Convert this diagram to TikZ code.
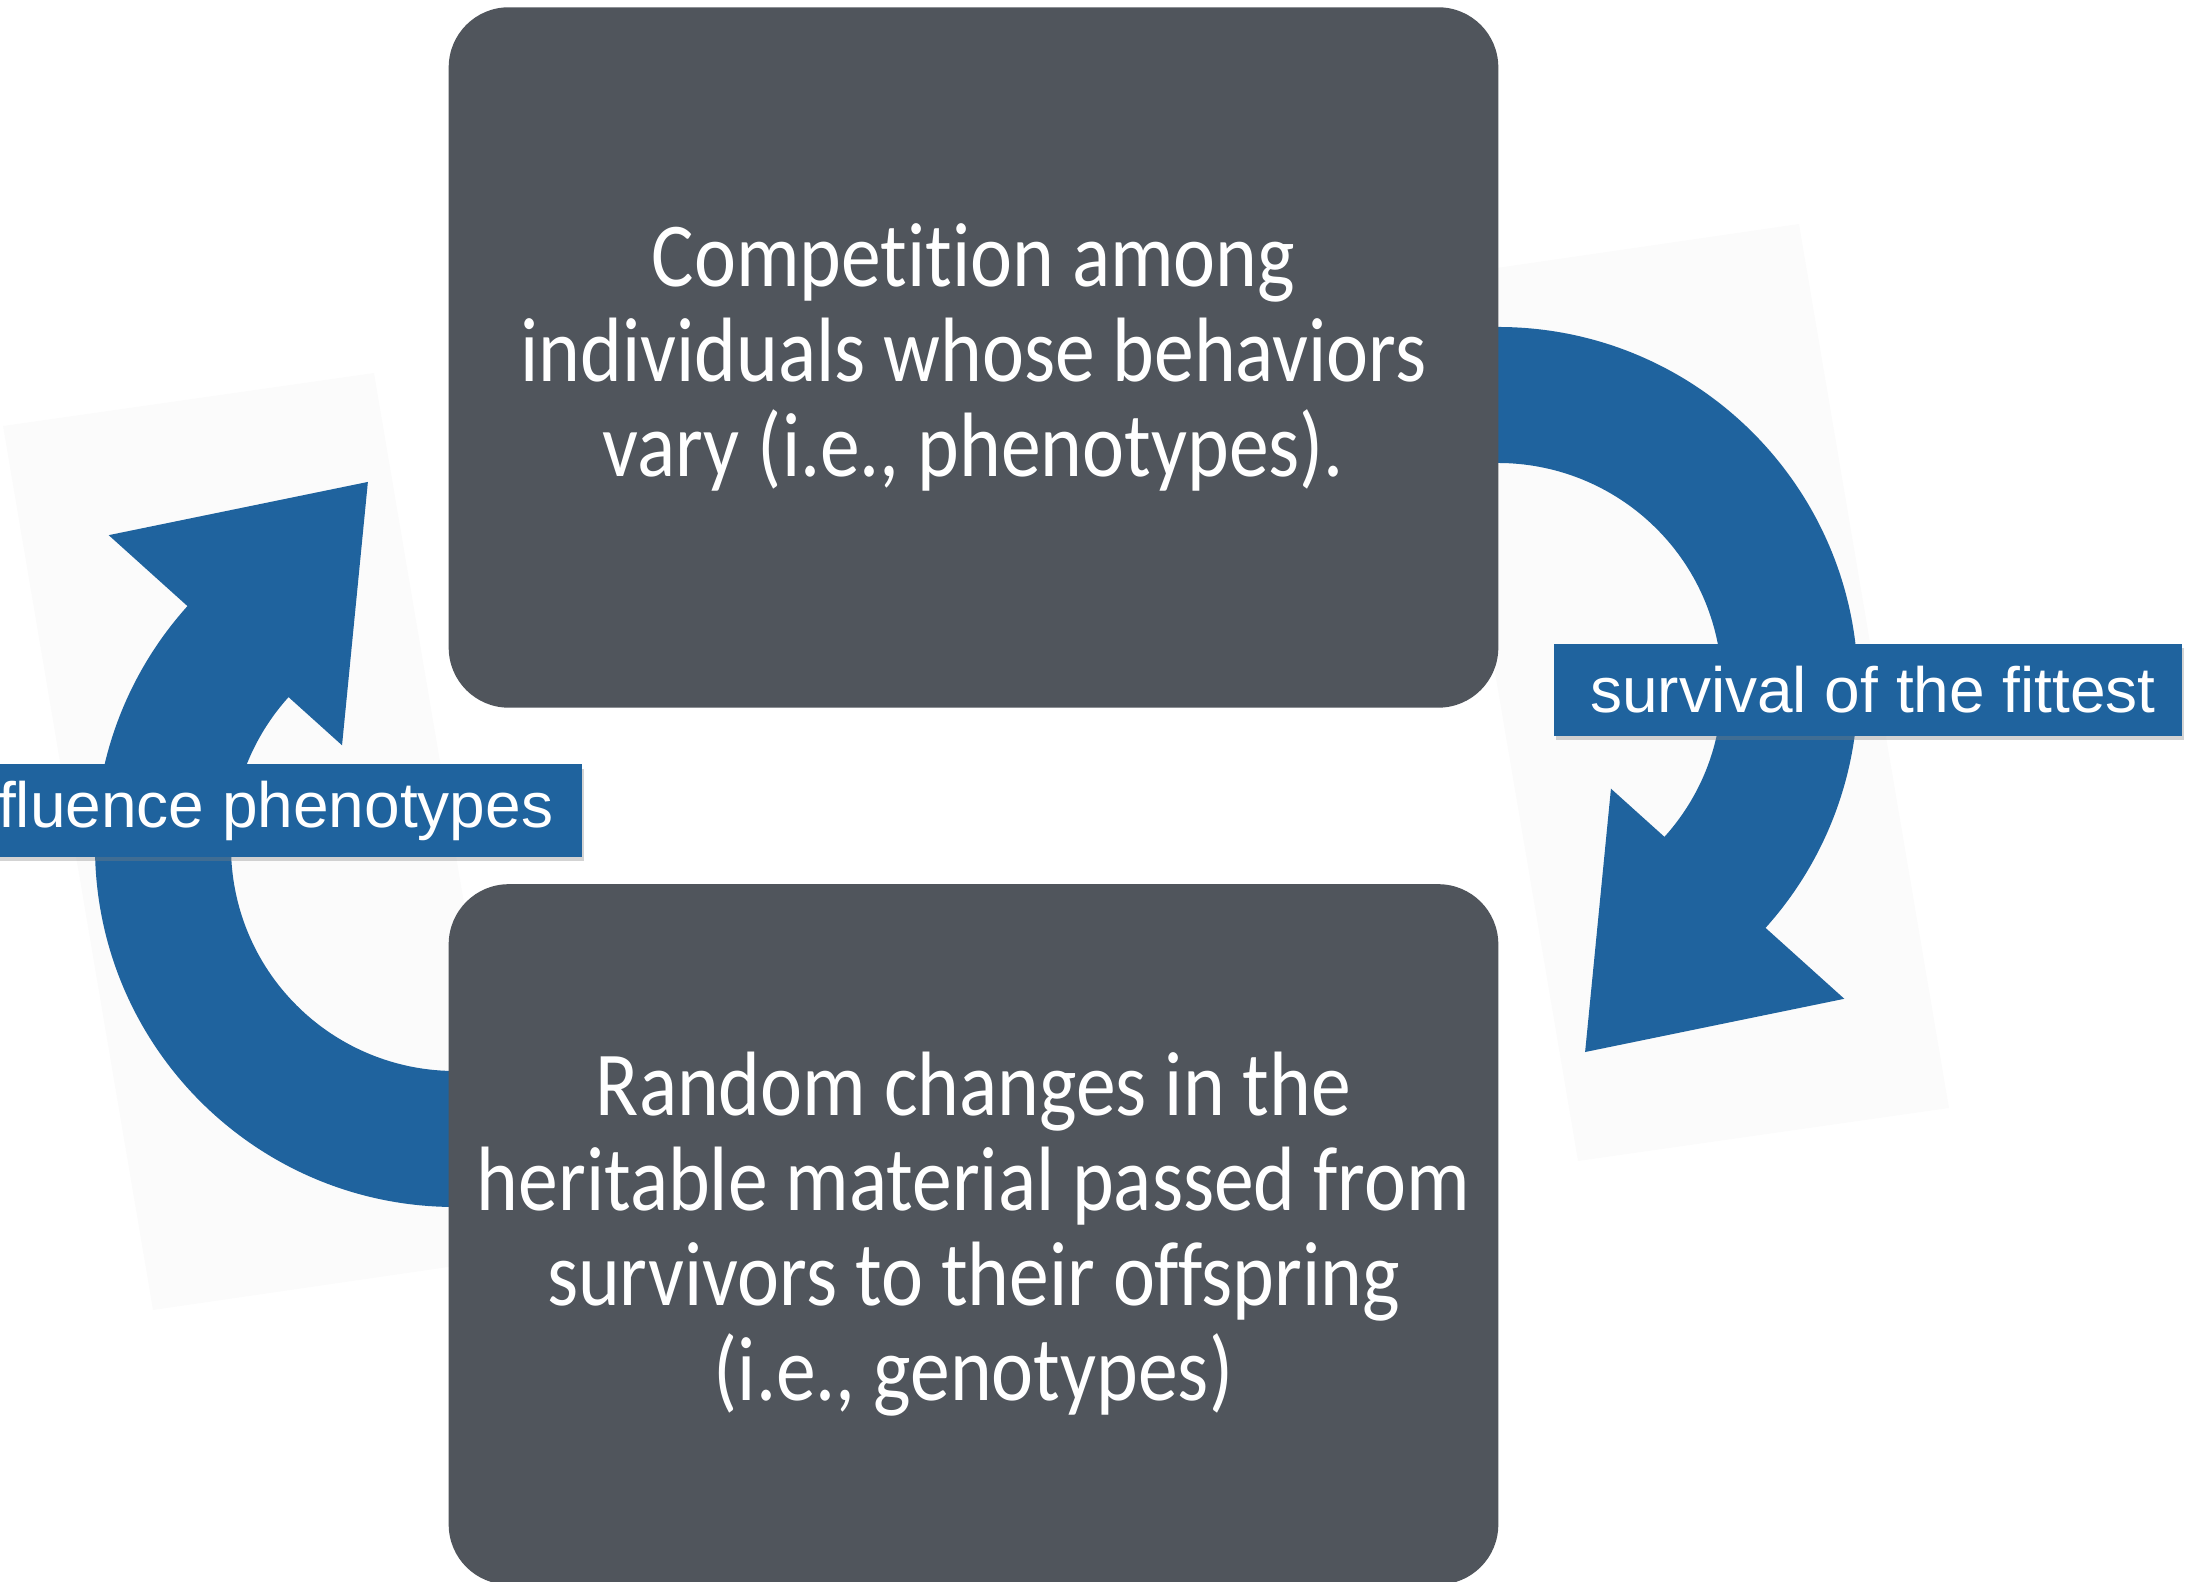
\documentclass[tikz,border=0pt]{standalone}
\usepackage{fontspec}
\setmainfont{Carlito}[FakeStretch=0.87,Ligatures=NoCommon]
\newfontfamily\labelfont{Liberation Sans}
\usetikzlibrary{positioning,shadows,backgrounds,calc}
\definecolor{BoxGray}{HTML}{50555C}
\definecolor{CycleBlue}{HTML}{1F639E}
\definecolor{FadeGray}{HTML}{FBFBFB}
\tikzset{
  % Stage box
  stagebox/.style={rectangle,rounded corners=0.6cm,fill=BoxGray,text=white,
                   minimum width=10.49cm,minimum height=7.0cm,align=center,
                   font=\fontsize{26}{27}\selectfont},
  % Blue tag on an arrow
  tagbox/.style={rectangle,fill=CycleBlue,text=white,minimum height=0.92cm,
                 inner xsep=0.29cm,font=\labelfont\fontsize{18.2}{20}\selectfont,
                 drop shadow={shadow xshift=0.6pt,shadow yshift=-1.2pt,opacity=0.35}},
  % Curved arrow band
  loopband/.style={fill=CycleBlue},
  paper/.style={fill=FadeGray}
}
\begin{document}
\begin{tikzpicture}[x=0.01cm,y=0.01cm]
  \useasboundingbox (0,0) rectangle (2199,1582);

  \node[stagebox] (comp) at (973.5,1224.5)
    {Competition among\\individuals whose behaviors\\vary (i.e., phenotypes).};
  \node[stagebox,below=1.75cm of comp] (rand)
    {Random changes in the\\heritable material passed from\\survivors to their offspring\\(i.e., genotypes)};

  \coordinate (sel) at (1498,895);
  \coordinate (mut) at (455,735);

  \begin{scope}[on background layer]
    % --- right arrow (comp -> rand) ---
    \fill[paper] (1428,1304) -- (1799,1358) -- (1949,474) -- (1578,421) -- cycle;
    \fill[loopband] ($(sel)+(90:360)$) arc[start angle=90,end angle=-42,radius=360]
      -- ($(sel)+(-42:466)$) -- ($(sel)+(-42:309)+(-132:213)$) -- ($(sel)+(-42:152)$)
      -- ($(sel)+(-42:224)$) arc[start angle=-42,end angle=90,radius=224] -- cycle;
    % --- left arrow (rand -> comp) ---
    \fill[paper] (524,326) -- (153,272) -- (3,1156) -- (374,1209) -- cycle;
    \fill[loopband] ($(mut)+(270:360)$) arc[start angle=270,end angle=138,radius=360]
      -- ($(mut)+(138:466)$) -- ($(mut)+(138:309)+(48:213)$) -- ($(mut)+(138:152)$)
      -- ($(mut)+(138:224)$) arc[start angle=138,end angle=270,radius=224] -- cycle;
  \end{scope}

  \node[tagbox,inner xsep=0.24cm,minimum width=6.28cm] (fit) at (1868,892) {\hspace{0.1cm}survival of the fittest};
  \node[tagbox,anchor=east] (infl) at (583,771.5) {fluence phenotypes};
\end{tikzpicture}
\end{document}
